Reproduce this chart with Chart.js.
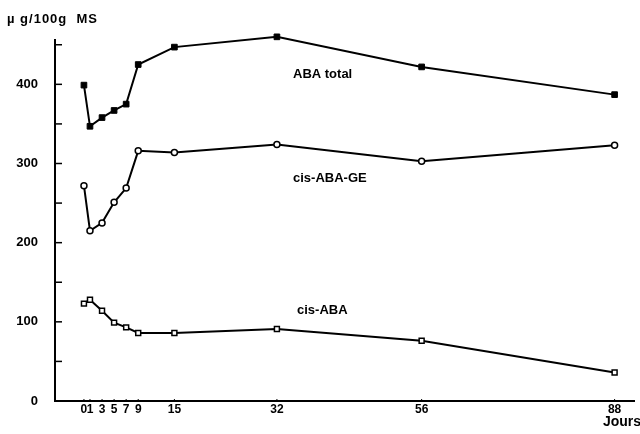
<!DOCTYPE html>
<html>
<head>
<meta charset="utf-8">
<script src="https://cdn.jsdelivr.net/npm/chart.js@4/dist/chart.umd.min.js"></script>
<style>
  html, body { margin: 0; padding: 0; background: #fff; }
  #wrap { width: 640px; height: 434px; }
</style>
</head>
<body>
<div id="wrap"><canvas id="abaChart" width="640" height="434"></canvas></div>
<script>
// Jours de prélèvement
const jours = [0, 1, 3, 5, 7, 9, 15, 32, 56, 88];

// Teneurs (µg/100g MS)
const abaTotal = [399, 347, 358, 367, 375, 425, 447, 460, 422, 387];
const cisAbaGe = [272, 215, 225, 251, 269, 316, 314, 324, 303, 323];
const cisAba   = [123, 128, 114, 99, 93, 86, 86, 91, 76, 36];

const yLabels = [0, 100, 200, 300, 400];
const yTicks  = [0, 50, 100, 150, 200, 250, 300, 350, 400, 450];

const FONT = 'Liberation Sans, Arial, sans-serif';

function points(values) {
    return jours.map((j, i) => ({ x: j, y: values[i] }));
}

// Petites graduations tournées vers l'intérieur + étiquettes de texte
const annotations = {
    id: 'annotations',
    afterDraw(chart) {
        const ctx = chart.ctx;
        const x = chart.scales.x;
        const y = chart.scales.y;
        const area = chart.chartArea;
        ctx.save();
        ctx.strokeStyle = '#000';
        ctx.lineWidth = 1.5;
        yTicks.forEach(v => {
            const py = y.getPixelForValue(v);
            ctx.beginPath();
            ctx.moveTo(area.left, py);
            ctx.lineTo(area.left + 7, py);
            ctx.stroke();
        });
        ctx.lineWidth = 1;
        jours.forEach(j => {
            const px = x.getPixelForValue(j);
            ctx.beginPath();
            ctx.moveTo(px, area.bottom);
            ctx.lineTo(px, area.bottom - 2);
            ctx.stroke();
        });

        ctx.fillStyle = '#000';
        ctx.textBaseline = 'middle';
        ctx.textAlign = 'left';
        ctx.font = 'bold 13px ' + FONT;
        ctx.letterSpacing = '1px';
        ctx.fillText('\u00b5 g/100g  MS', 7, 19);
        ctx.letterSpacing = '0px';
        ctx.fillText('ABA total', 293, 74);
        ctx.fillText('cis-ABA-GE', 293, 178);
        ctx.fillText('cis-ABA', 297, 310);
        ctx.font = 'bold 14px ' + FONT;
        ctx.textAlign = 'right';
        ctx.fillText('Jours', 641, 422);
        ctx.restore();
    }
};

const ctx = document.getElementById('abaChart').getContext('2d');

new Chart(ctx, {
    type: 'line',
    data: {
        datasets: [
            {
                label: 'ABA total',
                data: points(abaTotal),
                borderColor: '#000',
                backgroundColor: '#000',
                borderWidth: 2,
                pointStyle: 'rect',
                pointRadius: 4,
                pointBorderWidth: 1,
                pointBackgroundColor: '#000',
                tension: 0
            },
            {
                label: 'cis-ABA-GE',
                data: points(cisAbaGe),
                borderColor: '#000',
                borderWidth: 2,
                pointStyle: 'circle',
                pointRadius: 3,
                pointBorderWidth: 1.5,
                pointBackgroundColor: '#fff',
                tension: 0
            },
            {
                label: 'cis-ABA',
                data: points(cisAba),
                borderColor: '#000',
                borderWidth: 2,
                pointStyle: 'rect',
                pointRadius: 3.5,
                pointBorderWidth: 1.5,
                pointBackgroundColor: '#fff',
                tension: 0
            }
        ]
    },
    options: {
        responsive: false,
        animation: false,
        clip: false,
        layout: { padding: { top: 40, right: 0, left: 0, bottom: 0 } },
        plugins: {
            legend: { display: false },
            tooltip: { enabled: false }
        },
        scales: {
            x: {
                type: 'linear',
                min: -4.8,
                max: 91.3,
                grid: { display: false, drawTicks: false },
                border: { display: true, color: '#000', width: 2 },
                afterBuildTicks: (scale) => {
                    scale.ticks = jours.map(j => ({ value: j }));
                },
                afterFit: (scale) => { scale.height = 33; },
                ticks: {
                    autoSkip: false,
                    maxRotation: 0,
                    padding: 1,
                    color: '#000',
                    font: { family: FONT, size: 12, weight: 'bold' },
                    callback: (v) => String(v)
                }
            },
            y: {
                min: 0,
                max: 456,
                grid: { display: false, drawTicks: false },
                border: { display: true, color: '#000', width: 2 },
                afterBuildTicks: (scale) => {
                    scale.ticks = yLabels.map(v => ({ value: v }));
                },
                afterFit: (scale) => { scale.width = 55; },
                ticks: {
                    padding: 17,
                    color: '#000',
                    font: { family: FONT, size: 13, weight: 'bold' }
                }
            }
        }
    },
    plugins: [annotations]
});
</script>
</body>
</html>
